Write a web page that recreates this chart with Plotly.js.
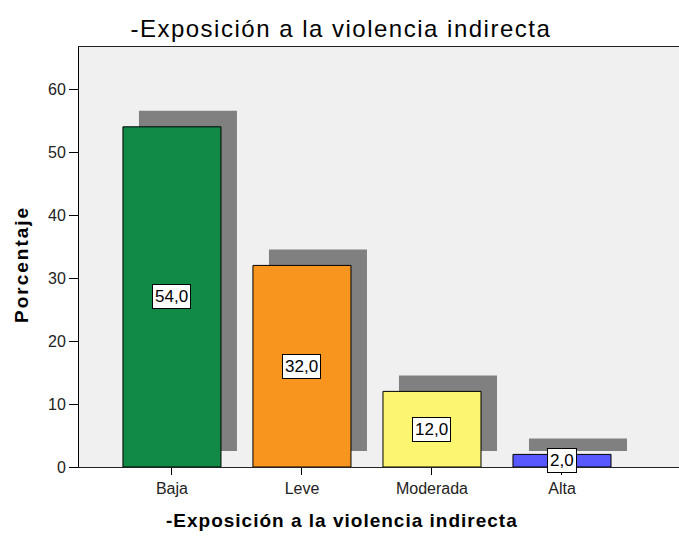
<!DOCTYPE html>
<html><head><meta charset="utf-8">
<script src="https://cdn.plot.ly/plotly-3.0.1.min.js"></script>
<style>
body{margin:0;background:#fff}#c{width:679px;height:538px}
#c .gtitle{letter-spacing:1.5px}
</style>
</head><body><div id="c"></div>
<script>
const categories = ["Baja", "Leve", "Moderada", "Alta"];
const percentages = [54.0, 32.0, 12.0, 2.0];
const valueLabels = ["54,0", "32,0", "12,0", "2,0"];
const barColors = ["#118a45", "#f7951e", "#fbf56f", "#5858ff"];
const chartTitle = "-Exposición a la violencia indirecta";
const xTitle = "-Exposición a la violencia indirecta";
const yTitle = "Porcentaje";

const FONT = "Liberation Sans, Arial, sans-serif";
const W = 0.754;
const pxPerUnitX = 130, pxPerUnitY = 6.3;
const shadowDX = 16 / pxPerUnitX, shadowDY = 16 / pxPerUnitY;
const xs = categories.map((c, i) => i);

const shadow = {
  type: "bar", x: xs, y: percentages, base: percentages.map(() => shadowDY),
  width: W, offset: -W / 2 + shadowDX,
  marker: {color: "#808080", line: {width: 0}}, hoverinfo: "skip", showlegend: false
};
const bars = {
  type: "bar", x: xs, y: percentages, width: W, offset: -W / 2,
  marker: {color: barColors, line: {color: "#000", width: 1}}, showlegend: false
};
const annotations = xs.map((x, i) => ({
  x: x, y: percentages[i] / 2, text: valueLabels[i], showarrow: false,
  bgcolor: "#fff", bordercolor: "#000", borderwidth: 1, borderpad: 2,
  font: {family: FONT, size: 17, color: "#000"}
}));
// axis titles as paper annotations (positioned like the original)
annotations.push({xref: "paper", yref: "paper", x: 0.438, y: -0.128, text: xTitle,
  showarrow: false, xanchor: "center", yanchor: "middle",
  font: {family: FONT, size: 19, color: "#000", weight: "bold"}});
annotations.push({xref: "paper", yref: "paper", x: -0.095, y: 0.481, text: yTitle,
  showarrow: false, textangle: -90, xanchor: "center", yanchor: "middle",
  font: {family: FONT, size: 19, color: "#000", weight: "bold"}});

const layout = {
  width: 679, height: 538,
  margin: {l: 79, r: 0, t: 47, b: 71},
  paper_bgcolor: "#fff", plot_bgcolor: "#f0f0f0",
  barmode: "overlay",
  title: {text: chartTitle, x: 0.502, xanchor: "center", y: 0.947, yanchor: "middle",
    font: {family: FONT, size: 24, color: "#000"}},
  xaxis: {range: [-0.715, 3.9], tickmode: "array", tickvals: xs, ticktext: categories,
    showgrid: false, zeroline: false, showline: true, linecolor: "#222", linewidth: 1, mirror: true,
    ticks: "outside", ticklen: 7, tickcolor: "#000",
    tickfont: {family: FONT, size: 16, color: "#222"}},
  yaxis: {range: [0, 66.67], dtick: 10, showgrid: false, zeroline: false,
    showline: true, linecolor: "#000", linewidth: 1,
    ticks: "outside", ticklen: 9, tickcolor: "#000",
    tickfont: {family: FONT, size: 16, color: "#222"}},
  annotations: annotations
};
Plotly.newPlot("c", [shadow, bars], layout, {staticPlot: true, displayModeBar: false}).then(() => {
  const t = document.querySelectorAll("#c .annotation-text");
  const n = t.length;
  if (n >= 2) {
    t[n - 2].style.letterSpacing = "1px";
    t[n - 1].style.letterSpacing = "2px";
  }
});
</script></body></html>
